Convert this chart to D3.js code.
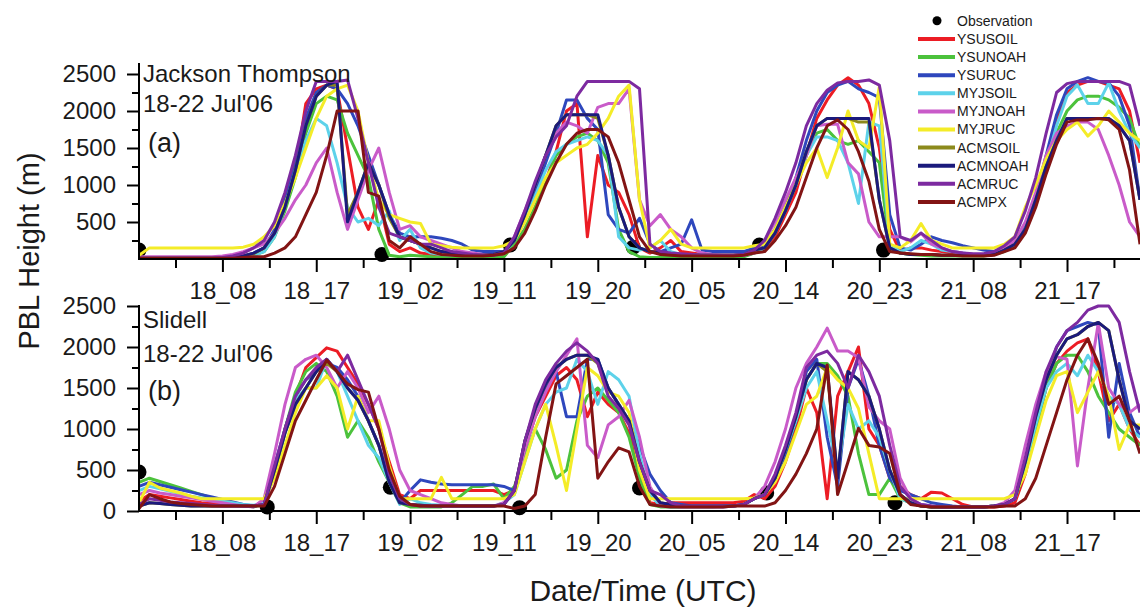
<!DOCTYPE html>
<html>
<head>
<meta charset="utf-8">
<script src="https://cdn.jsdelivr.net/npm/d3@7"></script>
<style>
  body { margin: 0; background: #fff; }
  svg { display: block; font-family: "Liberation Sans", Arial, sans-serif; }
</style>
</head>
<body>
<div id="chart"></div>
<script>
////////////////////////////////////////////////////////////////////////
// Data: hourly PBL height (m) from 18 Jul 00 UTC (hour 0) to 22 Jul 00 UTC (hour 96)

let hours = d3.range(0, 97);

let schemeNames  = ["YSUSOIL", "YSUNOAH", "YSURUC", "MYJSOIL", "MYJNOAH", "MYJRUC", "ACMSOIL", "ACMNOAH", "ACMRUC", "ACMPX"];
let schemeColors = ["#ec1c24", "#4cc23c", "#2e47bd", "#5dd2ea", "#c95bc9", "#f4ec28", "#8c8a1c", "#1b1a7c", "#7d2aa0", "#821414"];

let tickHours  = [8, 17, 26, 35, 44, 53, 62, 71, 80, 89];
let tickLabels = ["18_08", "18_17", "19_02", "19_11", "19_20", "20_05", "20_14", "20_23", "21_08", "21_17"];
let minorTickHours = [3.5, 12.5, 21.5, 30.5, 39.5, 48.5, 57.5, 66.5, 75.5, 84.5, 93.5];

// (a) Jackson Thompson
let jtYSUSOIL = [
  20,20,20,20,20,20,20,20,20,20,30,60,
  150,350,700,1200,2100,2300,2350,2300,1500,700,400,800,
  200,100,150,80,60,40,30,30,30,30,30,40,
  200,400,700,1050,1450,2000,2100,300,1400,1000,900,600,
  150,80,150,250,100,80,60,50,50,50,50,80,
  150,300,600,900,1400,1900,2150,2350,2450,2350,2100,1500,
  400,100,150,150,120,100,80,60,50,60,80,150,
  250,450,850,1350,1900,2250,2350,2400,2400,2350,2300,2000,
  1300];
let jtYSUNOAH = [
  10,10,10,10,10,10,10,10,10,10,20,50,
  100,300,650,1100,1700,2100,2200,2150,1700,1400,1100,400,
  50,30,50,40,30,20,20,20,20,20,20,30,
  200,400,700,1050,1400,1550,1650,1700,1600,1300,400,100,
  30,20,20,20,20,20,20,20,20,20,30,80,
  200,400,700,1000,1400,1700,1750,1600,1550,1600,1450,1300,
  150,80,60,50,40,40,40,40,40,40,60,100,
  200,400,800,1300,1700,2000,2150,2200,2200,2150,2050,1900,
  1500];
let jtYSURUC = [
  20,20,20,20,20,20,20,20,20,20,40,80,
  150,400,800,1300,1900,2250,2350,2300,2100,1800,1400,1000,
  600,350,300,300,300,280,250,200,120,100,100,100,
  250,550,900,1300,1700,2150,2150,1900,1750,600,400,350,
  550,200,100,150,200,530,120,100,100,100,100,150,
  200,400,700,1100,1600,2000,2250,2350,2400,2300,2250,2180,
  600,150,120,200,300,250,220,180,150,120,100,150,
  250,450,850,1400,1950,2300,2400,2450,2400,2380,2200,1800,
  800];
let jtMYJSOIL = [
  10,10,10,10,10,10,10,10,10,10,20,50,
  100,300,700,1200,1600,1900,1800,1300,700,500,550,450,
  650,250,400,150,80,60,50,50,50,50,50,80,
  250,500,850,1200,1450,1550,1600,1650,1600,1400,300,150,
  120,150,250,100,60,50,50,50,50,50,50,80,
  150,350,650,1000,1400,1650,1650,1600,1300,750,1850,1800,
  200,100,150,250,200,120,100,80,60,60,80,120,
  200,400,800,1300,1800,2200,2350,2100,2100,2380,2000,1700,
  1500];
let jtMYJNOAH = [
  30,30,30,30,30,30,30,30,40,60,100,150,
  200,350,550,800,1000,1300,1500,900,400,800,1200,1500,
  900,400,450,300,250,200,150,100,80,60,60,80,
  300,650,1000,1400,1700,1850,1800,1700,2050,2100,2100,2300,
  800,450,600,400,300,150,80,60,50,50,50,80,
  250,500,800,1100,1400,1800,1820,1820,1300,1150,500,300,
  300,300,230,350,200,150,100,80,60,60,80,150,
  250,500,900,1400,1700,1800,1850,1850,1750,1400,1000,500,
  300];
let jtMYJRUC = [
  50,150,150,150,150,150,150,150,150,150,160,200,
  300,450,750,1100,1500,1900,2200,2300,2350,2000,1300,800,
  600,550,500,480,200,180,160,150,150,150,150,180,
  250,500,800,1100,1300,1400,1500,1550,1700,1900,2200,2350,
  800,150,250,400,200,150,150,150,150,150,150,180,
  200,400,700,1000,1300,1500,1100,1500,2000,1600,1500,2330,
  200,150,250,480,250,200,150,150,150,150,150,200,
  300,700,1000,1350,1600,1750,1850,1660,1800,2000,1850,1700,
  1600];
let jtACMSOIL = [
  10,10,10,10,10,10,10,10,10,20,40,70,
  150,350,700,1200,1800,2200,2350,2350,600,900,1300,1000,
  550,300,250,200,150,100,80,60,50,50,60,100,
  250,600,1000,1400,1800,1950,1950,1950,1900,1400,700,300,
  150,100,80,60,60,50,50,50,50,50,60,120,
  150,350,650,1000,1450,1800,1900,1900,1900,1850,1850,800,
  150,80,60,60,60,50,50,50,50,50,60,120,
  200,400,800,1250,1600,1900,1900,1900,1900,1900,1800,1600,
  800];
let jtACMNOAH = [
  10,10,10,10,10,10,10,10,10,20,40,80,
  150,350,700,1200,1800,2200,2350,2400,500,900,1300,1000,
  600,300,250,200,150,100,80,60,50,50,60,100,
  250,600,1000,1400,1800,1950,1950,1950,1950,1400,700,300,
  150,100,80,60,60,50,50,50,50,50,60,120,
  150,350,650,1000,1450,1800,1900,1900,1900,1900,1900,800,
  150,80,60,60,60,50,50,50,50,50,60,120,
  200,400,800,1250,1600,1900,1900,1900,1900,1900,1800,1600,
  800];
let jtACMRUC = [
  10,10,10,10,10,10,10,10,20,40,80,150,
  250,500,900,1400,2000,2400,2400,2400,2420,1900,1300,700,
  350,300,250,200,200,150,100,80,60,50,50,80,
  300,650,1050,1400,1650,1800,2200,2400,2400,2400,2400,2400,
  2300,200,100,80,70,60,50,50,50,50,60,120,
  250,550,900,1300,1800,2100,2280,2380,2400,2400,2420,2350,
  1600,300,250,350,250,150,100,80,70,70,100,180,
  300,650,1100,1700,2250,2370,2400,2400,2400,2400,2400,2350,
  1800];
let jtACMPX = [
  10,10,10,10,10,10,10,10,10,10,20,30,
  30,80,150,300,600,900,1400,2000,2000,2000,900,850,
  250,150,300,200,100,60,50,40,40,40,50,70,
  150,350,650,1000,1300,1550,1700,1750,1750,1650,1300,800,
  300,100,60,50,40,40,40,40,40,40,50,80,
  100,250,450,700,1100,1500,1800,1880,1750,1450,1050,400,
  100,80,70,60,60,50,50,40,40,40,50,100,
  150,350,700,1150,1550,1850,1880,1880,1900,1880,1750,1200,
  200];
let jtObsHours  = [0, 23.3, 35.6, 47.4, 59.5, 71.4];
let jtObsValues = [120, 60, 190, 160, 190, 120];

// (b) Slidell
let sdYSUSOIL = [
  120,200,180,160,140,120,100,90,80,70,60,60,
  80,450,1000,1400,1750,1870,1990,1950,1750,1550,1300,1000,
  600,200,150,250,250,250,250,250,250,250,250,200,
  250,750,1150,1400,1650,1750,1600,1150,1450,1300,1200,950,
  500,100,80,100,100,100,100,100,100,100,120,200,
  150,300,600,1000,1500,1200,150,1400,1700,2000,1000,800,
  400,300,200,150,230,220,150,80,50,50,50,60,
  100,450,1000,1500,1800,1950,2050,2100,1700,1100,1300,1000,
  800];
let sdYSUNOAH = [
  350,400,360,320,280,240,200,160,120,90,70,50,
  80,500,1000,1450,1700,1800,1700,1400,900,1100,900,600,
  350,100,50,50,50,50,100,200,300,300,330,150,
  300,650,1000,750,400,500,1100,1400,1500,1350,1200,900,
  400,80,50,50,50,50,50,50,60,60,80,150,
  200,400,700,1100,1600,1800,1800,1650,1400,700,200,200,
  400,150,100,60,50,50,50,50,50,50,60,80,
  150,500,1000,1500,1800,1900,1900,1700,1400,1200,1000,900,
  800];
let sdYSURUC = [
  300,350,320,290,260,230,200,170,140,110,80,60,
  100,550,1000,1400,1600,1700,1800,1750,1600,1400,1100,800,
  400,100,250,380,350,330,320,320,320,320,320,300,
  250,800,1200,1500,1700,1150,1150,1850,1850,1500,1300,1100,
  800,450,250,100,80,60,60,60,60,60,80,150,
  200,400,700,1100,1700,1850,900,300,1500,1850,1400,800,
  400,250,200,150,100,80,60,50,50,50,60,80,
  150,600,1100,1600,2000,2200,2250,2300,2270,900,1800,1200,
  900];
let sdMYJSOIL = [
  250,300,270,240,210,180,160,140,120,100,80,70,
  100,450,950,1350,1500,1500,1850,1700,1400,1100,800,650,
  350,80,150,100,80,70,60,60,60,60,60,100,
  200,600,1000,1300,1450,1500,1850,1700,1300,1700,1600,1400,
  700,200,60,50,50,50,50,50,50,60,80,150,
  200,400,750,1100,1500,1700,1100,500,1300,1000,1100,900,
  500,150,100,80,60,50,50,50,50,50,60,80,
  150,550,1050,1500,1700,1800,1650,1900,1700,1400,1300,1000,
  900];
let sdMYJNOAH = [
  200,250,220,200,180,160,140,120,100,80,60,50,
  150,700,1300,1750,1850,1900,1750,1500,1700,1500,1200,1400,
  1000,500,250,200,150,100,80,60,60,60,60,100,
  250,750,1150,1450,1700,1900,2100,800,650,1050,1150,1350,
  900,300,80,60,50,50,50,50,50,60,80,150,
  300,600,1000,1500,1800,2000,2230,1950,1950,1870,1270,1100,
  1000,400,150,80,60,50,50,50,50,50,60,100,
  250,800,1300,1700,1880,1850,550,1500,2290,1500,1300,1200,
  1300];
let sdMYJRUC = [
  100,350,280,250,220,180,150,150,150,150,150,150,
  150,400,800,1200,1500,1500,1650,1500,1000,1400,1100,1100,
  550,150,150,150,150,410,150,150,150,150,150,150,
  200,600,1000,1300,800,250,1000,1750,1650,1450,1400,1200,
  500,150,150,150,150,150,150,150,150,150,150,160,
  200,350,600,950,1300,1400,1750,1600,1500,1250,700,150,
  150,150,150,150,150,150,150,150,150,150,150,150,
  200,450,900,1350,1650,1700,1200,1450,1700,1400,750,1050,
  1050];
let sdACMSOIL = [
  60,100,90,80,70,60,60,60,60,60,60,60,
  80,500,950,1300,1500,1700,1800,1700,1500,1350,1100,800,
  350,100,80,70,60,60,60,60,60,60,60,80,
  250,850,1250,1550,1750,1850,1900,1900,1800,1500,1300,1100,
  600,250,100,80,60,60,60,60,60,60,80,150,
  200,400,750,1150,1600,1800,1700,400,1700,1600,1400,1000,
  500,200,100,60,50,50,50,50,50,50,60,80,
  150,600,1150,1600,1900,2100,2150,2250,2300,2200,1600,1100,
  1000];
let sdACMNOAH = [
  60,100,90,80,70,60,60,60,60,60,60,60,
  80,500,950,1300,1500,1700,1850,1700,1500,1350,1100,800,
  350,100,80,70,60,60,60,60,60,60,60,80,
  250,850,1250,1550,1750,1850,1900,1900,1850,1500,1300,1100,
  600,250,100,80,60,60,60,60,60,60,80,150,
  200,400,750,1150,1600,1800,1750,400,1700,1600,1400,1000,
  500,200,100,60,50,50,50,50,50,50,60,80,
  150,600,1150,1600,1900,2100,2150,2250,2300,2200,1600,1100,
  1000];
let sdACMRUC = [
  80,150,130,110,100,90,80,70,60,60,60,60,
  80,550,1000,1400,1600,1750,1850,1700,1900,1600,1300,1000,
  450,150,80,60,60,60,60,60,60,60,60,80,
  250,850,1300,1600,1800,1950,2050,1950,1800,1400,1250,1050,
  600,250,200,100,60,60,60,60,60,60,80,150,
  200,450,800,1200,1750,1900,1950,1800,1500,1900,1700,1400,
  800,300,150,80,60,50,50,50,50,50,60,80,
  150,650,1200,1700,2000,2200,2300,2450,2500,2500,2300,1700,
  1200];
let sdACMPX = [
  30,200,150,110,90,80,70,60,60,60,60,60,
  60,300,700,1100,1350,1600,1840,1700,1550,1480,1450,1000,
  500,180,80,60,60,60,60,60,60,60,60,60,
  30,60,200,900,1550,1650,1750,1850,400,600,770,720,
  300,80,60,50,50,50,50,50,50,60,60,60,
  60,100,250,450,700,1000,1780,200,600,1010,800,780,
  700,200,80,60,50,50,50,50,50,50,50,60,
  60,150,400,800,1200,1600,1900,2100,1800,1300,1400,1100,
  700];
let sdObsHours  = [0, 12.3, 24.1, 36.5, 48, 60.2, 72.5];
let sdObsValues = [475, 50, 290, 40, 280, 220, 100];

let yMajorTicksA = [500, 1000, 1500, 2000, 2500];
let yMajorTicksB = [0, 500, 1000, 1500, 2000, 2500];
let yMinorTicks  = [250, 750, 1250, 1750, 2250];

////////////////////////////////////////////////////////////////////////
// Layout

let svgWidth = 1140, svgHeight = 610;
let plotLeft = 139, plotRight = 1140;

let svg = d3.select("#chart")
  .append("svg")
  .attr("width", svgWidth)
  .attr("height", svgHeight);

let xScale = d3.scaleLinear().domain([0, 96]).range([plotLeft, plotRight]);

svg.append("defs").append("clipPath")
  .attr("id", "plotClip")
  .append("rect")
  .attr("x", plotLeft).attr("y", 0)
  .attr("width", plotRight - plotLeft).attr("height", svgHeight);

let panels = [
  {
    yScale: d3.scaleLinear().domain([0, 2500]).range([259, 74]),
    axisTop: 63,
    majorTicks: yMajorTicksA,
    series: [jtYSUSOIL, jtYSUNOAH, jtYSURUC, jtMYJSOIL, jtMYJNOAH, jtMYJRUC, jtACMSOIL, jtACMNOAH, jtACMRUC, jtACMPX],
    obsHours: jtObsHours, obsValues: jtObsValues,
    title: ["Jackson Thompson", "18-22 Jul'06"], titleY: [82, 112],
    letter: "(a)", letterY: 152
  },
  {
    yScale: d3.scaleLinear().domain([0, 2500]).range([511, 306]),
    axisTop: 305,
    majorTicks: yMajorTicksB,
    series: [sdYSUSOIL, sdYSUNOAH, sdYSURUC, sdMYJSOIL, sdMYJNOAH, sdMYJRUC, sdACMSOIL, sdACMNOAH, sdACMRUC, sdACMPX],
    obsHours: sdObsHours, obsValues: sdObsValues,
    title: ["Slidell", "18-22 Jul'06"], titleY: [328, 362],
    letter: "(b)", letterY: 400
  }
];

function styleAxis(g, fontSize) {
  g.attr("font-family", null).attr("font-size", null);
  g.selectAll("line").attr("stroke", "#000").attr("stroke-width", 2);
  g.selectAll("text").attr("fill", "#1a1a1a").style("font-size", fontSize + "px");
}

function drawPanel(p) {
  let g = svg.append("g");
  let y = p.yScale;
  let base = y(0);

  // observations sit under the model lines
  let plot = g.append("g").attr("clip-path", "url(#plotClip)");
  plot.selectAll("circle.obs")
    .data(p.obsHours)
    .enter()
    .append("circle")
    .attr("cx", d => xScale(d))
    .attr("cy", (d, i) => y(p.obsValues[i]))
    .attr("r", 7.5)
    .attr("fill", "#000");

  let line = d3.line()
    .x((d, i) => xScale(hours[i]))
    .y(d => y(d));

  plot.selectAll("path.model")
    .data(p.series)
    .enter()
    .append("path")
    .attr("d", line)
    .attr("fill", "none")
    .attr("stroke", (d, i) => schemeColors[i])
    .attr("stroke-width", 3)
    .attr("stroke-linejoin", "round");

  // x axis: labelled ticks every 9 h, minor ticks between
  let xMajor = d3.axisBottom(xScale)
    .tickValues(tickHours)
    .tickFormat((d, i) => tickLabels[i])
    .tickSize(13).tickSizeOuter(0).tickPadding(10);
  let xMinor = d3.axisBottom(xScale)
    .tickValues(minorTickHours)
    .tickFormat("")
    .tickSize(9).tickSizeOuter(0);
  let gx = g.append("g").attr("transform", "translate(0," + base + ")").call(xMajor);
  gx.select(".domain").remove();
  styleAxis(gx, 24);
  let gxm = g.append("g").attr("transform", "translate(0," + base + ")").call(xMinor);
  gxm.select(".domain").remove();
  styleAxis(gxm, 24);
  g.append("line")
    .attr("x1", plotLeft - 1).attr("x2", plotRight)
    .attr("y1", base).attr("y2", base)
    .attr("stroke", "#000").attr("stroke-width", 2);

  // y axis
  let yMajor = d3.axisLeft(y).tickValues(p.majorTicks).tickFormat(d3.format("d"))
    .tickSize(12).tickSizeOuter(0).tickPadding(11);
  let yMinor = d3.axisLeft(y).tickValues(yMinorTicks).tickFormat("").tickSize(7).tickSizeOuter(0);
  let gy = g.append("g").attr("transform", "translate(" + plotLeft + ",0)").call(yMajor);
  gy.select(".domain").remove();
  styleAxis(gy, 24);
  let gym = g.append("g").attr("transform", "translate(" + plotLeft + ",0)").call(yMinor);
  gym.select(".domain").remove();
  styleAxis(gym, 24);
  g.append("line")
    .attr("x1", plotLeft).attr("x2", plotLeft)
    .attr("y1", p.axisTop).attr("y2", base + 1)
    .attr("stroke", "#000").attr("stroke-width", 2);

  // station annotation
  g.selectAll("text.title")
    .data(p.title)
    .enter()
    .append("text")
    .attr("x", 143)
    .attr("y", (d, i) => p.titleY[i])
    .attr("font-size", 24)
    .attr("fill", "#1a1a1a")
    .text(d => d);
  g.append("text")
    .attr("x", 148).attr("y", p.letterY)
    .attr("font-size", 27)
    .attr("fill", "#1a1a1a")
    .text(p.letter);
}

panels.forEach(drawPanel);

////////////////////////////////////////////////////////////////////////
// Legend

let legend = svg.append("g");
legend.append("circle")
  .attr("cx", 937).attr("cy", 20.7).attr("r", 4.5).attr("fill", "#000");
legend.append("text")
  .attr("x", 957).attr("y", 20.7)
  .attr("dy", "0.35em")
  .attr("font-size", 14)
  .attr("fill", "#1a1a1a")
  .text("Observation");

let legendRows = legend.selectAll("g.row")
  .data(schemeNames)
  .enter()
  .append("g")
  .attr("transform", (d, i) => "translate(0," + (39 + i * 18.1) + ")");
legendRows.append("line")
  .attr("x1", 918).attr("x2", 955)
  .attr("stroke", (d, i) => schemeColors[i])
  .attr("stroke-width", 4);
legendRows.append("text")
  .attr("x", 957)
  .attr("dy", "0.35em")
  .attr("font-size", 14)
  .attr("fill", "#1a1a1a")
  .text(d => d);

////////////////////////////////////////////////////////////////////////
// Axis titles

svg.append("text")
  .attr("transform", "translate(39,251) rotate(-90)")
  .attr("text-anchor", "middle")
  .attr("font-size", 29)
  .attr("fill", "#1a1a1a")
  .text("PBL Height (m)");

svg.append("text")
  .attr("x", 643).attr("y", 601)
  .attr("text-anchor", "middle")
  .attr("font-size", 30)
  .attr("fill", "#1a1a1a")
  .text("Date/Time (UTC)");
</script>
</body>
</html>
